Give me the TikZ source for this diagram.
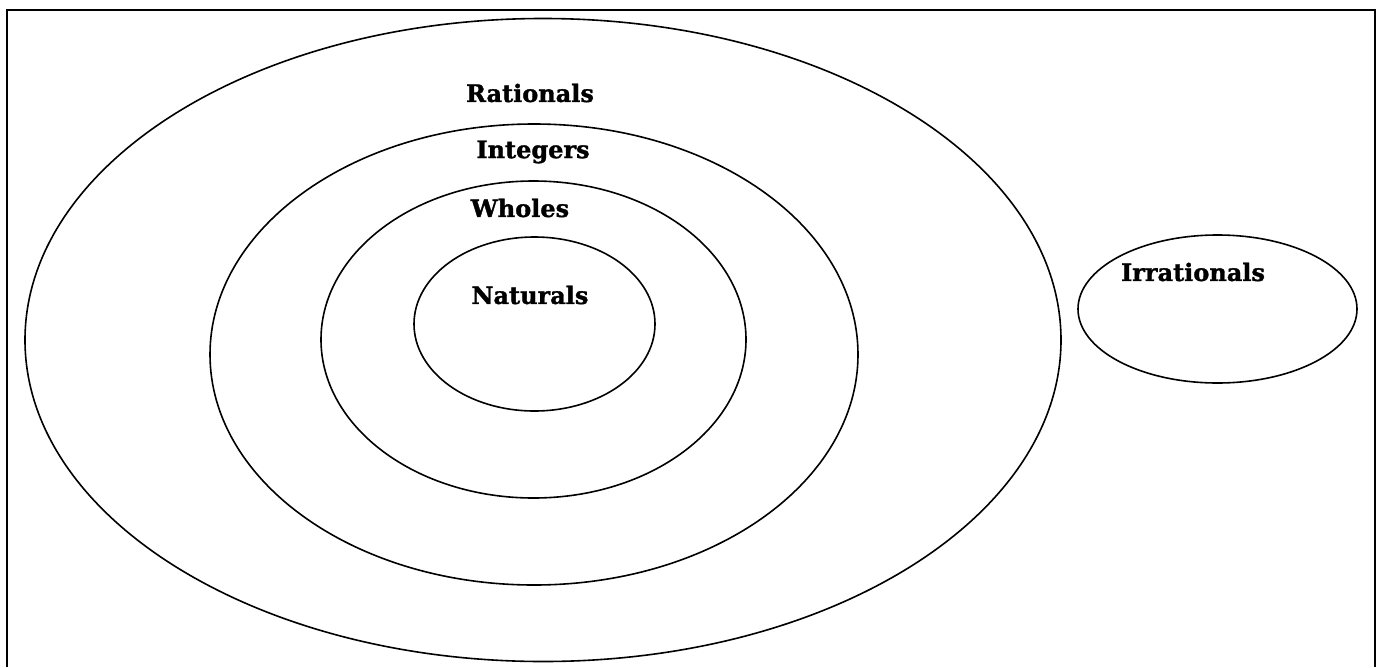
\documentclass[tikz,border=0pt]{standalone}
\usepackage{fontspec}
\newfontfamily\setfont{DejaVu Serif}[BoldFeatures={FakeBold=1.3}]
\tikzset{setname/.style={font=\setfont\bfseries\fontsize{24}{28}\selectfont}}
\begin{document}
\begin{tikzpicture}[x=1pt,y=-1pt]
\useasboundingbox (0,0) rectangle (1382,667);
\draw[line width=2.2pt] (7,667) -- (7,10) -- (1375,10) -- (1375,667);

\draw[line width=1.6pt] (543,340) ellipse (518 and 321.5);
\draw[line width=1.6pt] (534,354.5) ellipse (324 and 230.5);
\draw[line width=1.6pt] (533.5,339.5) ellipse (212.5 and 158.5);
\draw[line width=1.6pt] (534.5,324) ellipse (120.5 and 87);
\draw[line width=1.6pt] (1217.5,309) ellipse (139.5 and 74);

\node[setname] (rat) at (530,93) {Rationals};
\node[setname] (int) at (533,152) {Integers};
\node[setname] (who) at (520,208) {Wholes};
\node[setname] (nat) at (530,295) {Naturals};
\node[setname] (irr) at (1193,272) {Irrationals};
\end{tikzpicture}
\end{document}
